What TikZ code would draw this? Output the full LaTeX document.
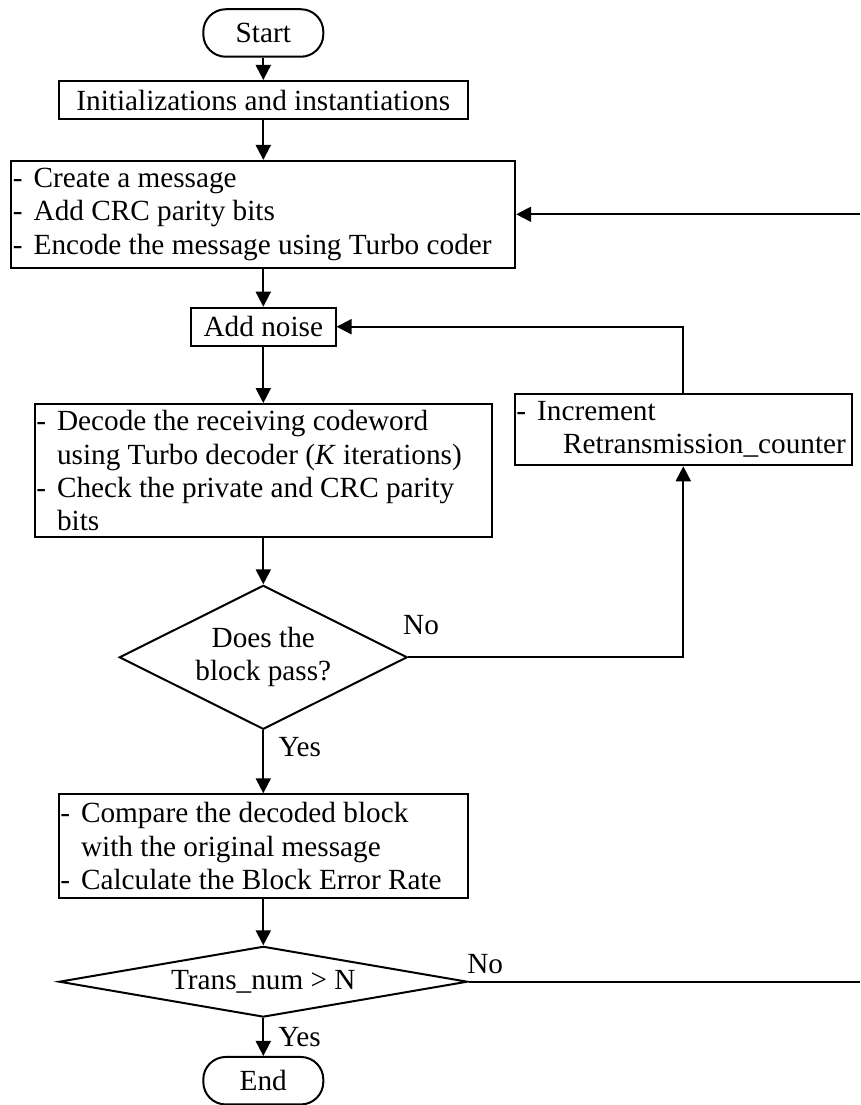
\documentclass[tikz,border=0pt]{standalone}
\usepackage{fontspec}
\setmainfont{Liberation Serif}
\usepackage{tikz}
\usetikzlibrary{arrows.meta}
\usetikzlibrary{positioning, shapes, shapes.geometric}

\newcommand{\itemdash}{\makebox[8.3pt][l]{-}}
\newcommand{\itemgap}{\hspace*{8.3pt}}

\tikzset{
    term/.style={draw, line width=0.8pt, rounded corners=9pt, minimum width=48pt, minimum height=19pt, inner sep=0pt},
    plainbox/.style={draw, line width=0.8pt, minimum height=15.2pt, inner sep=0pt},
    block/.style={draw, line width=0.8pt, inner xsep=0.6pt, inner ysep=0pt, align=flush left},
    decide/.style={draw, line width=0.8pt, diamond, inner sep=0pt, align=center},
    lbl/.style={inner sep=0pt},
    arr/.style={line width=0.8pt, -{Triangle[length=6pt,width=6pt]}},
    bare/.style={line width=0.8pt}
}

\begin{document}
\begin{tikzpicture}[x=0.4pt, y=-0.4pt]
    \def \mx {263.3}
    \tikzstyle{every node}=[font=\fontsize{11.7}{13.3}\selectfont];
    \useasboundingbox (0,0) rectangle (860,1105);

    % main column
    \node[term] (start) at (\mx,33) {Start};
    \node[plainbox, minimum width=163.6pt] (init) at (\mx,100) {Initializations and instantiations};
    \node[block, text width=200.3pt, minimum height=42.7pt] (msg) at (\mx,214.3)
        {\itemdash Create a message\\
         \itemdash Add CRC parity bits\\
         \itemdash Encode the message using Turbo coder};
    \node[plainbox, minimum width=57.8pt] (noise) at (\mx,326.7) {Add noise};
    \node[block, text width=181.6pt, minimum height=53.3pt] (dec) at (\mx,470.7)
        {\itemdash Decode the receiving codeword\\
         \itemgap using Turbo decoder (\textit{K} iterations)\\
         \itemdash Check the private and CRC parity\\
         \itemgap bits};
    \node[decide, minimum width=115.2pt, minimum height=57.6pt, aspect=2] (pass) at (\mx,657.3) {Does the\\block pass?};
    \node[block, text width=162.4pt, minimum height=41.4pt] (cmp) at (\mx,846)
        {\itemdash Compare the decoded block\\
         \itemgap with the original message\\
         \itemdash Calculate the Block Error Rate};
    \node[decide, minimum width=163.4pt, minimum height=28.3pt, aspect=5.75] (trans) at (\mx,981.7) {Trans\_num > N};
    \node[term] (end) at (\mx,1080.7) {End};

    % retransmission branch
    \node[block, text width=133.5pt, minimum height=28.6pt] (inc) at (683.3,429.5)
        {\itemdash Increment\\
         \hspace*{18.7pt}Retransmission\_counter};

    \coordinate (rtop) at (860,214.3);
    \coordinate (rbot) at (860,981.7);

    \draw[arr] (start) -- (init);
    \draw[arr] (init) -- (msg);
    \draw[arr] (msg) -- (noise);
    \draw[arr] (noise) -- (dec);
    \draw[arr] (dec) -- (pass);
    \draw[arr] (pass) -- (cmp);
    \draw[arr] (cmp) -- (trans);
    \draw[arr] (trans) -- (end);

    \draw[arr] (pass.east) -| (inc.south);
    \draw[arr] (inc.north) |- (noise.east);
    \draw[arr] (rtop) -- (msg.east);
    \draw[bare] (trans.east) -- (rbot);

    \node[lbl, anchor=base west] (no1) at ([shift={(-5.6,-22.7)}]pass.east) {No};
    \node[lbl, anchor=base west] (yes1) at ([shift={(14.7,26)}]pass.south) {Yes};
    \node[lbl, anchor=base west] (no2) at ([shift={(-1.7,-8.4)}]trans.east) {No};
    \node[lbl, anchor=base west] (yes2) at ([shift={(14.5,28.3)}]trans.south) {Yes};
\end{tikzpicture}
\end{document}
